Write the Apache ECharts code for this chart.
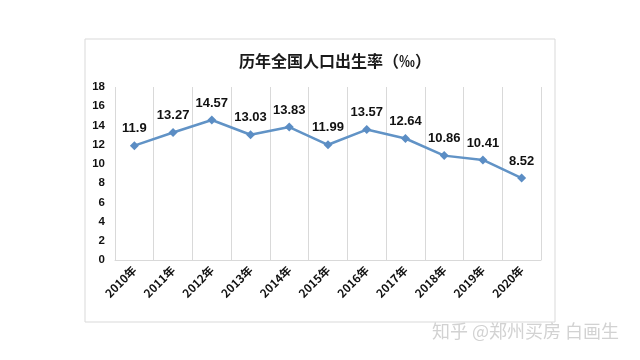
<!DOCTYPE html>
<html><head><meta charset="utf-8">
<script src="https://cdn.jsdelivr.net/npm/echarts@6/dist/echarts.min.js"></script>
<style>html,body{margin:0;padding:0;background:#fff}#c{width:640px;height:360px}</style>
</head><body><div id="c"></div>
<script>
const years = ['2010年','2011年','2012年','2013年','2014年','2015年','2016年','2017年','2018年','2019年','2020年'];
const birthRate = [11.9, 13.27, 14.57, 13.03, 13.83, 11.99, 13.57, 12.64, 10.86, 10.41, 8.52];
const yTicks = [0, 18, 2];
const titleText = '历年全国人口出生率（‰）';
const watermark = '知乎 @郑州买房 白画生';

const chart = echarts.init(document.getElementById('c'));
chart.setOption({
  backgroundColor: '#fff',
  animation: false,
  title: {
    text: titleText, left: 330, top: 48, textAlign: 'center',
    textStyle: {fontSize: 16, fontWeight: 'bold', color: '#1a1a1a', fontFamily: 'Noto Sans CJK SC'}
  },
  graphic: [
    {type: 'rect', shape: {x: 85, y: 39, width: 470, height: 283}, style: {fill: 'none', stroke: '#d9d9d9', lineWidth: 1}, z: -1},
    {type: 'text', left: 432, top: 322, style: {text: watermark, fill: '#d2d2d2', font: '18px "Noto Sans CJK SC"'}}
  ],
  grid: {left: 115, right: 99, top: 87, bottom: 100},
  xAxis: {
    type: 'category', data: years, boundaryGap: true,
    axisLine: {lineStyle: {color: '#d9d9d9'}},
    axisTick: {show: false},
    splitLine: {show: true, lineStyle: {color: '#d9d9d9'}},
    axisLabel: {rotate: 45, fontSize: 11.5, fontWeight: 'bold', color: '#111', fontFamily: 'Noto Sans CJK SC', margin: 8, interval: 0}
  },
  yAxis: {
    type: 'value', min: yTicks[0], max: yTicks[1], interval: yTicks[2],
    axisLine: {show: false}, axisTick: {show: false},
    splitLine: {show: false},
    axisLabel: {fontSize: 11.5, fontWeight: 'bold', color: '#111', fontFamily: 'Liberation Sans', margin: 10}
  },
  series: [{
    type: 'line', data: birthRate,
    symbol: 'diamond', symbolSize: 9,
    lineStyle: {color: '#6193c6', width: 2.5},
    itemStyle: {color: '#5b8dc4'},
    label: {show: true, position: 'top', distance: 6, fontSize: 13, fontWeight: 'bold', color: '#111', fontFamily: 'Liberation Sans'}
  }]
});
</script></body></html>
